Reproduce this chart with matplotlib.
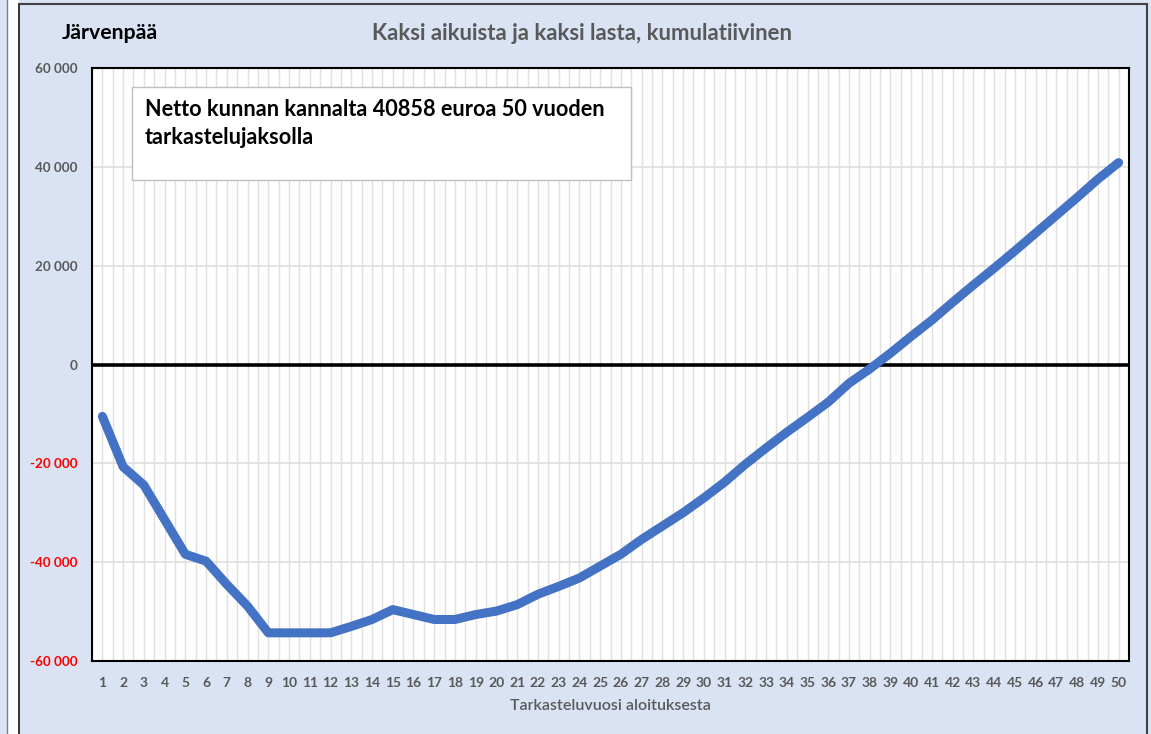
import numpy as np
import matplotlib.pyplot as plt
from matplotlib.patches import Rectangle
from matplotlib.lines import Line2D
from matplotlib.ticker import MultipleLocator

plt.rcParams['font.family'] = ['Lato', 'DejaVu Sans']

years = list(range(1, 51))
cumulative = [
    -10500, -20700, -24400, -31400, -38400, -39800, -44500, -48900, -54300, -54300,
    -54300, -54300, -53000, -51600, -49600, -50600, -51600, -51600, -50600, -49900,
    -48600, -46500, -44900, -43200, -40800, -38400, -35400, -32700, -30000, -27000,
    -23800, -20200, -16900, -13700, -10700, -7600, -3800, -900, 2300, 5700,
    9000, 12600, 16100, 19500, 23000, 26600, 30200, 33800, 37500, 40858,
]
y_ticks = [-60000, -40000, -20000, 0, 20000, 40000, 60000]
y_labels = ["-60 000", "-40 000", "-20 000", "0", "20 000", "40 000", "60 000"]

town = "Järvenpää"
title = "Kaksi aikuista ja kaksi lasta, kumulatiivinen"
note = "Netto kunnan kannalta 40858 euroa 50 vuoden\ntarkastelujaksolla"
xlabel = "Tarkasteluvuosi aloituksesta"

W, H = 1151, 734
bg = "#dae3f3"
grey = "#595959"

fig = plt.figure(figsize=(W / 100, H / 100), dpi=100)
fig.patch.set_facecolor(bg)

# frame bits from the excel screenshot
fig.patches.append(Rectangle((7 / W, 0), 12 / W, 1, transform=fig.transFigure,
                             facecolor="white", edgecolor="none"))
fig.lines.append(Line2D([6.5 / W, 6.5 / W], [0, 1], transform=fig.transFigure, color="#7f7f7f", lw=1))
fig.lines.append(Line2D([19 / W, 19 / W], [0, 1 - 4 / H], transform=fig.transFigure, color="#262626", lw=1.3))
fig.lines.append(Line2D([19 / W, 1147 / W], [1 - 4 / H, 1 - 4 / H], transform=fig.transFigure, color="#404040", lw=1.5))
fig.lines.append(Line2D([1147 / W, 1147 / W], [0, 1 - 4 / H], transform=fig.transFigure, color="#404040", lw=1.5))

left, right, top, bottom = 92, 1129, 68, 661
ax = fig.add_axes([left / W, 1 - bottom / H, (right - left) / W, (bottom - top) / H])
ax.set_facecolor("white")

ax.set_xlim(0.5, 50.5)
ax.set_ylim(-60000, 60000)
ax.set_xticks(years, labels=[str(y) for y in years], fontweight="bold", color=grey, fontsize=10)
ax.xaxis.set_minor_locator(MultipleLocator(0.5))
ax.set_yticks(y_ticks, labels=y_labels, fontweight="bold", fontsize=9.7)
for lab, v in zip(ax.get_yticklabels(), y_ticks):
    lab.set_color("#ff0000" if v < 0 else grey)

ax.grid(True, which="both", axis="x", color="#e0e0e0", lw=1)
ax.grid(True, which="major", axis="y", color="#e0e0e0", lw=1.3)
ax.set_axisbelow(True)
ax.tick_params(which="both", length=0)
ax.tick_params(axis="x", pad=11.5)
ax.tick_params(axis="y", pad=10.5)

for s in ax.spines.values():
    s.set_color("black")
    s.set_linewidth(1.5)

ax.axhline(0, color="black", lw=2.6, zorder=2)
ax.plot(years, cumulative, color="#4472c4", lw=6.5, solid_capstyle="round",
        solid_joinstyle="round", zorder=3)

ax.set_xlabel(xlabel, fontsize=11.5, color=grey, fontweight="semibold", labelpad=7)

fig.text(62 / W, 1 - 33 / H, town, fontsize=15.3, fontweight="bold", color="black", va="center")
fig.text(582 / W, 1 - 33 / H, title, fontsize=15.9, fontweight="bold", color=grey,
         va="center", ha="center")

# note box
fig.patches.append(Rectangle((132 / W, 1 - 180 / H), 499 / W, 93 / H, transform=fig.transFigure,
                             facecolor="white", edgecolor="#bfbfbf", lw=1, zorder=5))
fig.text(145 / W, 1 - 99 / H, note, fontsize=15.6, fontweight="bold", color="black",
         va="top", ha="left", linespacing=1.4, zorder=6)

fig.savefig("out.png", dpi=100, facecolor=bg)
